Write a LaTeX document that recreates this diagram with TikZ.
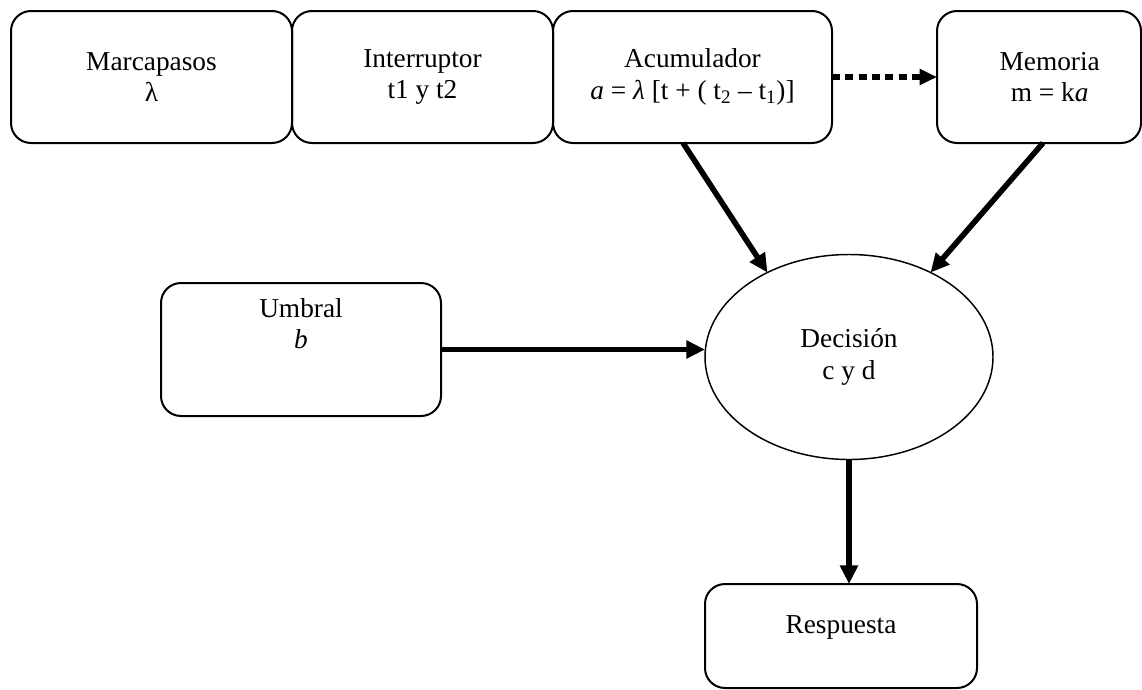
\documentclass[tikz,border=0pt]{standalone}
\usepackage{fontspec}
\setmainfont{Liberation Serif}
\usetikzlibrary{arrows.meta,shapes.geometric,calc}
\begin{document}
\begin{tikzpicture}[x=0.75pt,y=-0.75pt,
  box/.style={draw,line width=1.5pt,rounded corners=15pt,inner sep=0pt,outer sep=0pt,align=center,
    font=\fontsize{20.5}{23.5}\selectfont},
  ell/.style={draw,ellipse,line width=1.1pt,inner sep=0pt,outer sep=0pt,align=center,
    minimum width=216pt,minimum height=153.75pt,font=\fontsize{20.5}{23.5}\selectfont},
  txt/.style={align=center,inner sep=0pt,font=\fontsize{20.5}{23.5}\selectfont},
  arr/.style={line width=4.2pt,-{Triangle[length=14pt,width=13pt]}},
  dotarr/.style={line width=5pt,dash pattern=on 6pt off 4pt,-{Triangle[length=13pt,width=11.5pt]}}]
\useasboundingbox (0,0) rectangle (1142,689);
% top row
\node[box,minimum width=210.75pt,minimum height=99pt] (P) at (151.5,77) {Marcapasos\\λ};
\node[box,minimum width=195.75pt,minimum height=99pt] (I) at (422.5,77) {Interruptor\\t1 y t2};
\node[box,minimum width=209.25pt,minimum height=99pt] (A) at (692.5,77)
  {Acumulador\\\textit{a} = \textit{λ} [t + ( t\textsubscript{2} – t\textsubscript{1})]};
\node[box,minimum width=153pt,minimum height=99pt] (M) at (1039,77) {};
\node[txt] (Mt) at ([xshift=8pt]M.center) {Memoria\\m = k\textit{a}};
% middle
\node[box,minimum width=210pt,minimum height=99.75pt] (U) at (301,349.5) {};
\node[txt] (Ut) at ([yshift=19.5pt]U.center) {Umbral\\\textit{b}};
\node[ell] (D) at (849,357) {Decisión\\c y d};
% bottom
\node[box,minimum width=204pt,minimum height=78pt] (R) at (841,636) {};
\node[txt] (Rt) at ([yshift=6.75pt]R.center) {Respuesta};
% connectors
\draw[dotarr] (A.east) -- (M.west);
\draw[arr] ([xshift=-7.1pt]A.south) -- (D.134);
\draw[arr] ([xshift=3pt]M.south) -- (D.46);
\draw[arr] (U.east) -- (U.east -| D.west);
\draw[arr] (D.south) -- (D.south |- R.north);
\end{tikzpicture}
\end{document}
